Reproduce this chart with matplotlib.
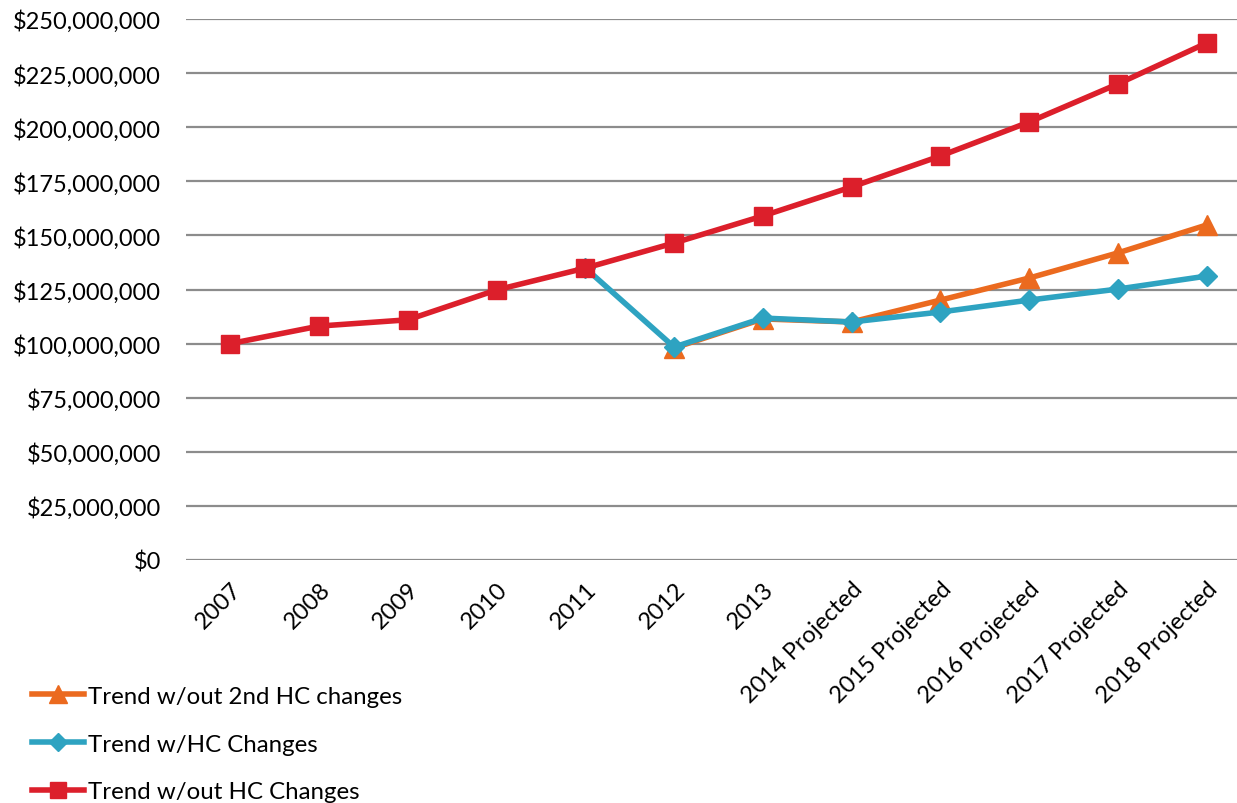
import numpy as np
import matplotlib.pyplot as plt
from matplotlib.ticker import FuncFormatter

# Categories and series values (dollars)
years = ['2007', '2008', '2009', '2010', '2011', '2012', '2013',
         '2014 Projected', '2015 Projected', '2016 Projected',
         '2017 Projected', '2018 Projected']
trend_no_hc = [100.0e6, 108.1e6, 111.0e6, 124.8e6, 134.9e6, 146.5e6, 159.0e6,
               172.4e6, 186.7e6, 202.4e6, 220.0e6, 238.9e6]
trend_hc = [np.nan, np.nan, np.nan, np.nan, 134.9e6, 98.4e6, 111.8e6,
            110.0e6, 114.6e6, 120.1e6, 125.2e6, 131.2e6]
trend_no_2nd_hc = [np.nan, np.nan, np.nan, np.nan, np.nan, 98.0e6, 111.4e6,
                   110.0e6, 120.1e6, 130.3e6, 141.9e6, 154.8e6]

plt.rcParams['font.family'] = ['Lato', 'DejaVu Sans']

fig = plt.figure(figsize=(12.37, 8.04), dpi=100)
ax = fig.add_axes([186 / 1237, 1 - 561 / 804, 1065 / 1237, 541 / 804])

x = np.arange(len(years))
l_orange, = ax.plot(x, trend_no_2nd_hc, color='#EB6A1F', lw=4, marker='^',
                    markersize=15, label='Trend w/out 2nd HC changes', zorder=3)
l_blue, = ax.plot(x, trend_hc, color='#2EA3C1', lw=4, marker='D',
                  markersize=10.5, label='Trend w/HC Changes', zorder=4)
l_red, = ax.plot(x, trend_no_hc, color='#DC1F2B', lw=4, marker='s',
                 markersize=13.5, label='Trend w/out HC Changes', zorder=5)

ax.set_xlim(-0.5, len(years) - 0.5)
ax.set_ylim(0, 250e6)
ax.set_yticks(np.arange(0, 250e6 + 1, 25e6))
ax.yaxis.set_major_formatter(FuncFormatter(lambda v, p: f'${v:,.0f}'))
ax.yaxis.grid(True, color='#8C8C8C', lw=1.6)
ax.set_axisbelow(True)
for s in ax.spines.values():
    s.set_visible(False)
ax.tick_params(axis='y', length=0, pad=18, labelsize=17)
ax.tick_params(axis='x', length=0, pad=13, labelsize=17)
ax.set_xticks(x)
ax.set_xticklabels(years, rotation=45, ha='right', rotation_mode='anchor')
ax.patch.set_visible(False)

fig.legend(handles=[l_orange, l_blue, l_red], loc='upper left',
           bbox_to_anchor=(0.018, 1 - 677 / 804), frameon=False, fontsize=17.3,
           handlelength=2.15, handletextpad=0.2, labelspacing=1.12,
           borderaxespad=0, markerscale=0.9)

fig.savefig('out.png', dpi=100)
